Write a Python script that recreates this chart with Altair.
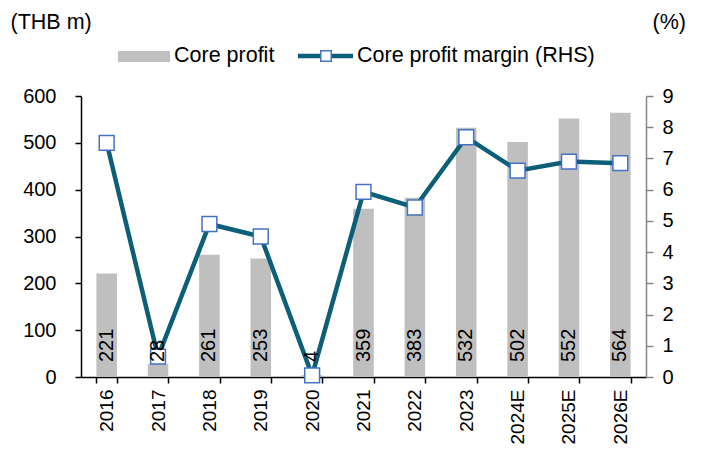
import altair as alt
import pandas as pd

years = ["2016", "2017", "2018", "2019", "2020", "2021", "2022", "2023", "2024E", "2025E", "2026E"]
core_profit = [221, 28, 261, 253, 4, 359, 383, 532, 502, 552, 564]
margin = [7.5, 0.65, 4.9, 4.5, 0.05, 5.93, 5.43, 7.68, 6.61, 6.9, 6.85]

df = pd.DataFrame({"year": years, "profit": core_profit, "margin": margin})
one = pd.DataFrame({"k": [0]})

FONT = "Liberation Sans"
FS = 20      # axis labels
FX = 19      # x labels
FT = 21.5    # titles / legend
GRAY = "#BFBFBF"
TEAL = "#0B5F78"
BLUE = "#4472C4"

W, H = 565, 281

xenc = alt.X("year:N", sort=years, title=None,
             scale=alt.Scale(paddingInner=0.6, paddingOuter=0.3),
             axis=alt.Axis(labelAngle=-90, labelFontSize=FX, labelColor="black",
                           domainColor="black", tickColor="black", tickSize=6,
                           tickBand="extent", labelPadding=6, domainWidth=1.5, tickWidth=1.5))

bars = alt.Chart(df).mark_bar(color=GRAY).encode(
    x=xenc,
    y=alt.Y("profit:Q", scale=alt.Scale(domain=[0, 600], nice=False),
            axis=alt.Axis(values=[0, 100, 200, 300, 400, 500, 600], title="(THB m)",
                          titleAngle=0, titleAlign="left", titleBaseline="middle",
                          titleX=-71, titleY=-74, titleFontSize=FT, titleFontWeight="normal",
                          titleColor="black",
                          labelFontSize=FS, labelColor="black", labelPadding=19,
                          domainColor="black", tickColor="black", tickSize=6,
                          domainWidth=1.5, tickWidth=1.5, grid=False)),
)

labels = alt.Chart(df).mark_text(angle=270, align="left", baseline="middle",
                                 fontSize=FS, color="black").encode(
    x=alt.X("year:N", sort=years),
    y=alt.value(266),
    text=alt.Text("profit:Q"),
)

line = alt.Chart(df).mark_line(
    color=TEAL, strokeWidth=4.5,
    point=alt.OverlayMarkDef(shape="square", filled=True, fill="white",
                             stroke=BLUE, strokeWidth=1.5, size=220, opacity=1),
).encode(
    x=alt.X("year:N", sort=years),
    y=alt.Y("margin:Q", scale=alt.Scale(domain=[0, 9], nice=False),
            axis=alt.Axis(orient="right", values=list(range(10)), title="(%)",
                          titleAngle=0, titleAlign="left", titleBaseline="middle",
                          titleX=6, titleY=-74, titleFontSize=FT, titleFontWeight="normal",
                          titleColor="black",
                          labelFontSize=FS, labelColor="black", labelPadding=9,
                          domainColor="#868686", tickColor="#868686", tickSize=7,
                          domainWidth=1.5, tickWidth=1.5, grid=False)),
)

leg_rect = alt.Chart(one).mark_rect(color=GRAY).encode(
    x=alt.value(37), x2=alt.value(89), y=alt.value(-45), y2=alt.value(-34))
leg_t1 = alt.Chart(one).mark_text(text="Core profit", align="left", baseline="middle",
                                  fontSize=FT, color="black").encode(
    x=alt.value(93), y=alt.value(-40))
leg_line = alt.Chart(one).mark_rule(color=TEAL, strokeWidth=4.5).encode(
    x=alt.value(217), x2=alt.value(272), y=alt.value(-40))
leg_sq = alt.Chart(one).mark_point(shape="square", filled=True, fill="white", stroke=BLUE,
                                   strokeWidth=1.5, size=110, opacity=1).encode(
    x=alt.value(245), y=alt.value(-40))
leg_t2 = alt.Chart(one).mark_text(text="Core profit margin (RHS)", align="left",
                                  baseline="middle", fontSize=FT, color="black").encode(
    x=alt.value(276), y=alt.value(-40))

chart = alt.layer(bars, line, labels, leg_rect, leg_t1, leg_line, leg_sq, leg_t2).resolve_scale(
    y="independent"
).properties(
    width=W, height=H,
    autosize=alt.AutoSizeParams(type="none"),
    padding={"left": 73, "top": 88, "right": 48, "bottom": 69},
).configure(font=FONT).configure_view(stroke=None)

chart.save("out.html", embed_options={"renderer": "svg", "actions": False})
